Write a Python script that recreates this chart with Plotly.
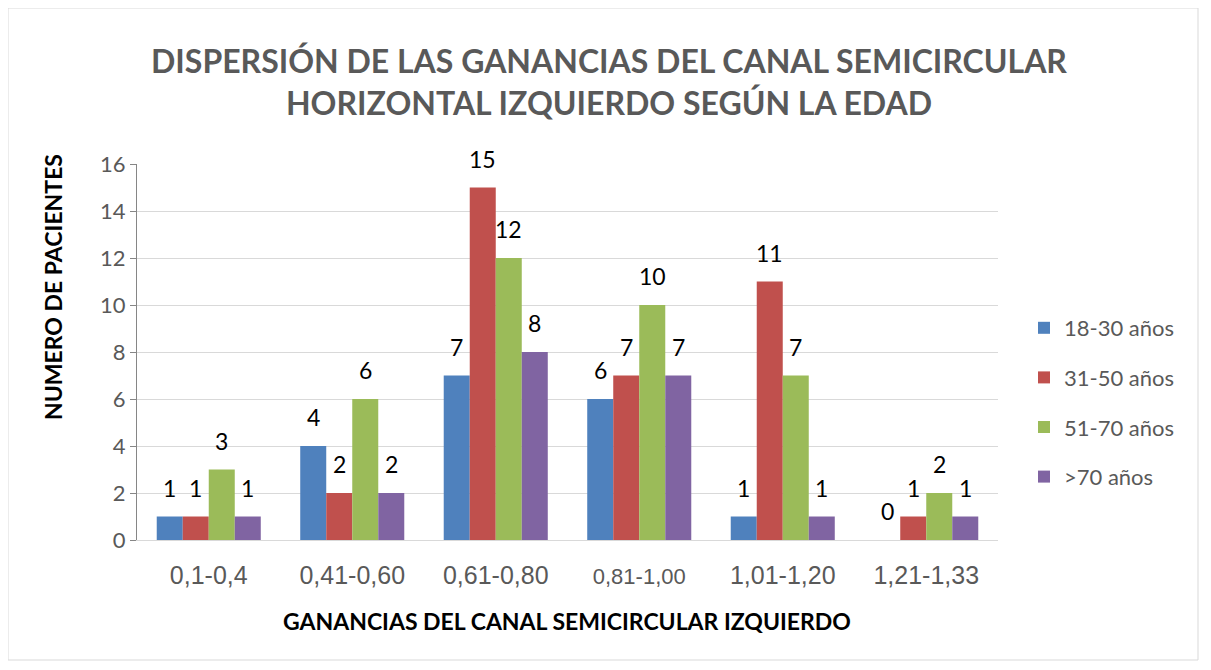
import plotly.graph_objects as go

categories = ["0,1-0,4", "0,41-0,60", "0,61-0,80", "0,81-1,00", "1,01-1,20", "1,21-1,33"]
series_names = ["18-30 años", "31-50 años", "51-70 años", ">70 años"]
v_18_30 = [1, 4, 7, 6, 1, 0]
v_31_50 = [1, 2, 15, 7, 11, 1]
v_51_70 = [3, 6, 12, 10, 7, 2]
v_70 = [1, 2, 8, 7, 1, 1]
colors = ["#4F81BD", "#C0504D", "#9BBB59", "#8064A2"]
y_ticks = [0, 2, 4, 6, 8, 10, 12, 14, 16]

all_values = [v_18_30, v_31_50, v_51_70, v_70]

OFF = 8  # page body margin
W, H = 1211 - OFF, 670 - OFF
# target pixel positions in the window
PL, PR, PT, PB = 137, 998, 164, 540
L, T = PL - OFF, PT - OFF
R = W - (PR - OFF)
B = H - (PB - OFF)
pw, ph = PR - PL, PB - PT

def px_x(x):
    return (x - PL) / pw

def px_y(y):
    return (PB - y) / ph

bargap = 0.275
bw = (1 - bargap) / 4

fig = go.Figure()
for j, (name, vals) in enumerate(zip(series_names, all_values)):
    fig.add_trace(go.Bar(
        x=categories, y=vals, name=name, legendgroup=name,
        marker=dict(color=colors[j], line=dict(width=0)),
    ))

annotations = []
for j, vals in enumerate(all_values):
    for i, v in enumerate(vals):
        annotations.append(dict(
            x=i + (j - 1.5) * bw, y=v, xref="x", yref="y",
            text=str(v), showarrow=False, yshift=29, yanchor="middle",
            font=dict(family="Lato", size=23, color="#000000"),
        ))

# Title lines
annotations.append(dict(
    x=px_x(609), y=px_y(81), xref="paper", yref="paper",
    text="DISPERSIÓN DE LAS GANANCIAS DEL CANAL SEMICIRCULAR<br>HORIZONTAL IZQUIERDO SEGÚN LA EDAD",
    showarrow=False, xanchor="center", yanchor="middle", align="center",
    font=dict(family="Lato", size=32, color="#595959", weight="bold"),
))
# Y axis title
annotations.append(dict(
    x=px_x(53), y=px_y(287), xref="paper", yref="paper",
    text="<b>NUMERO DE PACIENTES</b>", textangle=-90, showarrow=False,
    xanchor="center", yanchor="middle",
    font=dict(family="Lato", size=23, color="#000000"),
))
# X axis title
annotations.append(dict(
    x=px_x(567), y=px_y(621), xref="paper", yref="paper",
    text="<b>GANANCIAS DEL CANAL SEMICIRCULAR IZQUIERDO</b>", showarrow=False,
    xanchor="center", yanchor="middle",
    font=dict(family="Lato", size=23, color="#000000"),
))

ticktext = [c if c != "0,81-1,00" else '<span style="font-size:22px">' + c + '</span>' for c in categories]

fig.update_layout(
    width=W, height=H,
    margin=dict(l=L, r=R, t=T, b=B, autoexpand=False),
    paper_bgcolor="white", plot_bgcolor="white",
    barmode="group", bargap=bargap, bargroupgap=0,
    showlegend=True,
    legend=dict(
        x=px_x(1024), y=px_y(307), xanchor="left", yanchor="top",
        font=dict(family="Lato", size=22, color="#595959"),
        tracegroupgap=18, itemwidth=30, bgcolor="rgba(0,0,0,0)",
    ),
    annotations=annotations,
    xaxis=dict(
        type="category", tickmode="array", tickvals=categories, ticktext=ticktext,
        showline=True, linecolor="#d9d9d9", linewidth=1, ticks="",
        showgrid=False, ticklabelstandoff=13,
        tickfont=dict(family="Liberation Sans", size=25, color="#595959"),
    ),
    yaxis=dict(
        range=[0, 16], tickmode="array", tickvals=y_ticks,
        showgrid=True, gridcolor="#d9d9d9", gridwidth=1,
        showline=True, linecolor="#868686", linewidth=1,
        ticks="outside", ticklen=6, tickcolor="#868686",
        zeroline=False,
        tickfont=dict(family="Lato", size=22, color="#595959"),
    ),
    shapes=[dict(
        type="rect", xref="paper", yref="paper",
        x0=px_x(8), x1=px_x(1198), y0=px_y(660), y1=px_y(8),
        line=dict(color="#d9d9d9", width=1), fillcolor="rgba(0,0,0,0)", layer="below",
    )],
)

fig.write_html("out.html")
